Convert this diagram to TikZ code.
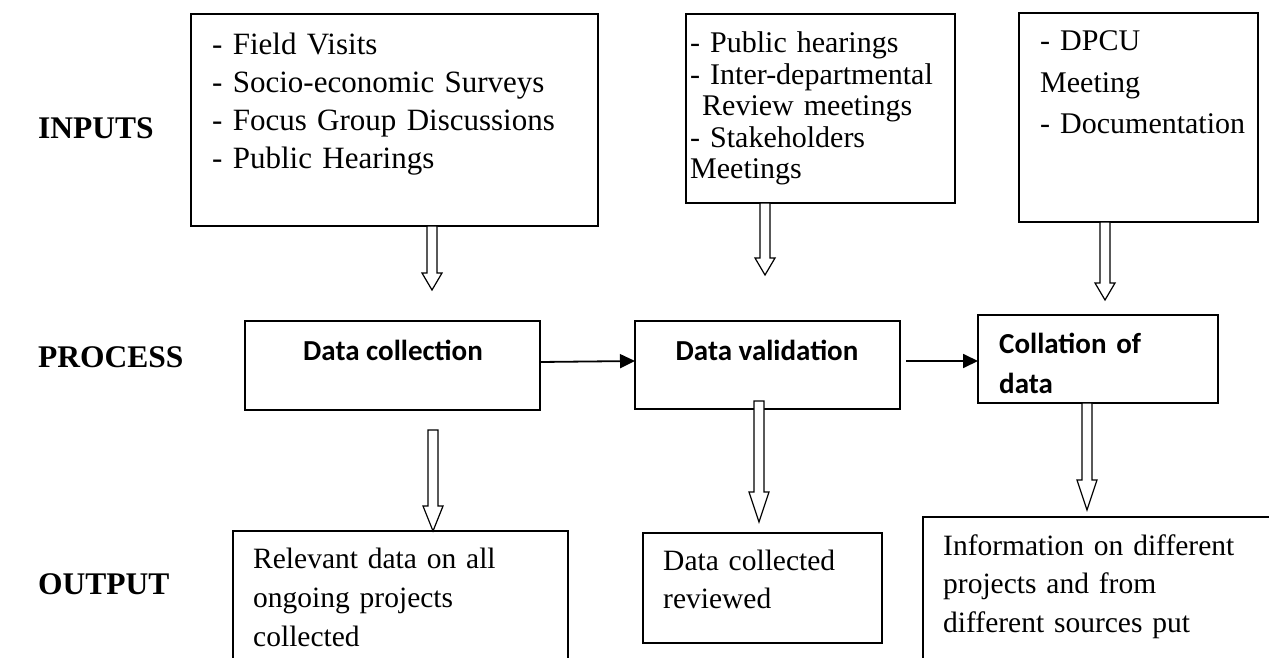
\documentclass[tikz,border=0pt]{standalone}
\usepackage{fontspec}
\setmainfont{Liberation Serif}
\newfontfamily\calibri{Carlito}
\usetikzlibrary{arrows.meta,calc}

\tikzset{
    hollow/.style={draw, fill=white, line width=1.2pt, line join=miter},
    flow/.style={line width=1.8pt, -{Triangle[length=15pt,width=14pt]}}
}

% hollow block arrow: [head length] {from} {to}
\newcommand{\fatarrow}[3][17]{%
    \draw[hollow] let \p1=(#2), \p2=(#3) in
        (\x1-5pt,\y1) -- (\x1-5pt,\y2+#1pt) -- (\x1-10pt,\y2+#1pt) -- (\x1,\y2)
        -- (\x1+10pt,\y2+#1pt) -- (\x1+5pt,\y2+#1pt) -- (\x1+5pt,\y1) -- cycle;}

\begin{document}
\begin{tikzpicture}[x=1pt,y=-1pt]
        \useasboundingbox (0,0) rectangle (1269,658);
        \clip (0,0) rectangle (1269,658);
        \begin{scope}[every node/.style={anchor=base west, inner sep=0pt, font=\fontsize{31.5}{38}\selectfont\bfseries}]
            \node (inputs) at (38,139) {INPUTS};
            \node (process) at (38,367) {PROCESS};
            \node (output) at (38,594) {OUTPUT};
        \end{scope}
        \begin{scope}[every node/.style={draw, line width=1.8pt, anchor=north west, inner sep=0pt, outer sep=0pt}]
            \node (in1) at (191,14) [minimum width=407pt, minimum height=212pt] {};
            \node (in2) at (686,14) [minimum width=269pt, minimum height=189pt] {};
            \node (in3) at (1019,13) [minimum width=239pt, minimum height=209pt] {};
            \node (pr1) at (245,321) [minimum width=295pt, minimum height=89pt] {};
            \node (pr2) at (635,321) [minimum width=265pt, minimum height=88pt] {};
            \node (pr3) at (978,315) [minimum width=240pt, minimum height=88pt] {};
            \node (out1) at (233,531) [minimum width=335pt, minimum height=160pt] {};
            \node (out2) at (643,533) [minimum width=239pt, minimum height=110pt] {};
            \node (out3) at (923,517) [minimum width=360pt, minimum height=180pt] {};
        \end{scope}
        \begin{scope}[every node/.style={anchor=base west, inner sep=0pt, align=left, text width=380pt}]
            \node[font=\fontsize{31}{38}\selectfont] (in1t) at (212,55)
                {- Field Visits\\- Socio-economic Surveys\\- Focus Group Discussions\\- Public Hearings};
            \node[font=\fontsize{30}{31.5}\selectfont] (in2t) at (690,53)
                {- Public hearings\\- Inter-departmental\\\hspace*{12pt}Review meetings\\- Stakeholders\\Meetings};
            \node[font=\fontsize{30}{41.5}\selectfont] (in3t) at (1040,51)
                {- DPCU\\Meeting\\- Documentation};
            \node[font=\fontsize{29.5}{39}\selectfont] (out1t) at (253,568)
                {Relevant data on all\\ongoing projects\\collected};
            \node[font=\fontsize{29.5}{38}\selectfont] (out2t) at (663,570)
                {Data collected\\reviewed};
            \node[font=\fontsize{29.5}{38.5}\selectfont] (out3t) at (943,555)
                {Information on different\\projects and from\\different sources put};
        \end{scope}
        \begin{scope}[every node/.style={inner sep=0pt, font=\fontsize{29}{40}\selectfont\calibri\bfseries}]
            \node[anchor=base] (pr1t) at (393,360) {Data collection};
            \node[anchor=base] (pr2t) at (767,360) {Data validation};
            \node[anchor=base west, align=left, text width=210pt] (pr3t) at (999,353) {Collation of\\data};
        \end{scope}
        % block arrows
        \coordinate (f1a) at (432,0 |- in1.south);  \coordinate (f1b) at (432,290);
        \coordinate (f2a) at (765,0 |- in2.south);  \coordinate (f2b) at (765,275);
        \coordinate (f3a) at (1105,0 |- in3.south); \coordinate (f3b) at (1105,300);
        \coordinate (f4a) at (433,430);  \coordinate (f4b) at (433,0 |- out1.north);
        \coordinate (f5a) at (759,401);  \coordinate (f5b) at (759,522);
        \coordinate (f6a) at (1087,403); \coordinate (f6b) at (1087,510);
        \fatarrow{f1a}{f1b}
        \fatarrow{f2a}{f2b}
        \fatarrow{f3a}{f3b}
        \fatarrow[25]{f4a}{f4b}
        \fatarrow[30]{f5a}{f5b}
        \fatarrow[30]{f6a}{f6b}
        \path [flow] ([yshift=3.5pt]pr1.east) edge ([yshift=4pt]pr2.west);
        \path [flow] ([xshift=6pt,yshift=4pt]pr2.east) edge ([yshift=-2pt]pr3.west);
\end{tikzpicture}
\end{document}
